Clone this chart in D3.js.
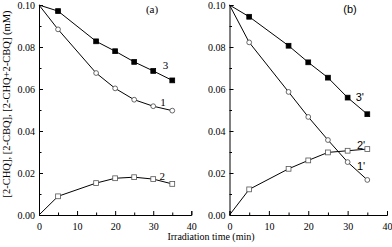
<!DOCTYPE html>
<html>
<head>
<meta charset="utf-8">
<script src="https://cdn.jsdelivr.net/npm/d3@7"></script>
<style>
  body { margin: 0; background: #fff; }
  svg { display: block; }
</style>
</head>
<body>
<div id="chart"></div>
<script>
// irradiation times (min)
const times = [0, 5, 15, 20, 25, 30, 35];

// panel (a)
const aCurve1 = [0.100, 0.0884, 0.0676, 0.0603, 0.0549, 0.0518, 0.0497];
const aCurve2 = [0.000, 0.0089, 0.0152, 0.0175, 0.0180, 0.0171, 0.0148];
const aCurve3 = [0.100, 0.0971, 0.0827, 0.0780, 0.0729, 0.0686, 0.0641];

// panel (b)
const bCurve1 = [0.100, 0.0822, 0.0586, 0.0467, 0.0357, 0.0252, 0.0167];
const bCurve2 = [0.000, 0.0122, 0.0220, 0.0260, 0.0298, 0.0306, 0.0314];
const bCurve3 = [0.100, 0.0944, 0.0806, 0.0727, 0.0654, 0.0559, 0.0480];

const xTicks = [0, 10, 20, 30, 40];
const yTicks = [0.00, 0.02, 0.04, 0.06, 0.08, 0.10];

const W = 392, H = 247;
const serif = "'Liberation Serif', 'Times New Roman', serif";
const sans = "'Liberation Sans', Arial, sans-serif";

const svg = d3.select("#chart").append("svg")
  .attr("width", W).attr("height", H);

const panels = [
  { left: 39, right: 191.3, tag: "(a)", tagFont: serif, tagX: 152,
    series: [
      { values: aCurve1, marker: "circle", label: "1", lx: 32.6, ly: 0.0533 },
      { values: aCurve2, marker: "osquare", label: "2", lx: 32.4, ly: 0.0181 },
      { values: aCurve3, marker: "fsquare", label: "3", lx: 33.2, ly: 0.0705 }
    ] },
  { left: 229.5, right: 387, tag: "(b)", tagFont: sans, tagX: 350,
    series: [
      { values: bCurve1, marker: "circle", label: "1'", lx: 33.4, ly: 0.0229 },
      { values: bCurve2, marker: "osquare", label: "2'", lx: 33.4, ly: 0.0329 },
      { values: bCurve3, marker: "fsquare", label: "3'", lx: 33.1, ly: 0.0557 }
    ] }
];

panels.forEach(p => {
  const x = d3.scaleLinear().domain([0, 40]).range([p.left, p.right]);
  const y = d3.scaleLinear().domain([0, 0.10]).range([215, 5]);
  const g = svg.append("g");

  // axes with inward ticks
  const gx = g.append("g")
    .attr("transform", "translate(0,215)")
    .call(d3.axisBottom(x).tickValues(d3.range(0, 41, 5)).tickSize(-4).tickPadding(8)
      .tickFormat(d => d % 10 === 0 ? d : ""));
  gx.selectAll(".tick line").attr("y2", d => d % 10 === 0 ? -4 : -2.5);
  const gy = g.append("g")
    .attr("transform", `translate(${p.left},0)`)
    .call(d3.axisLeft(y).tickValues(d3.range(0, 0.1001, 0.01)).tickSize(-4).tickPadding(4)
      .tickFormat(d => Math.round(d * 100) % 2 === 0 ? d3.format(".2f")(d) : ""));
  gy.selectAll(".tick line").attr("x2", d => Math.round(d * 100) % 2 === 0 ? 4 : 2.5);
  [gx, gy].forEach(a => {
    a.select(".domain").attr("stroke", "#000").attr("stroke-width", 1);
    a.selectAll(".tick line").attr("stroke", "#000");
    a.selectAll("text").attr("font-family", serif).attr("font-size", 10).attr("fill", "#000");
  });

  const line = d3.line().x((d, i) => x(times[i])).y(d => y(d));

  p.series.forEach(s => {
    g.append("path").datum(s.values)
      .attr("d", line).attr("fill", "none").attr("stroke", "#000").attr("stroke-width", 1);
    const pts = s.values.map((v, i) => ({ t: times[i], v })).slice(1);
    if (s.marker === "circle") {
      g.selectAll(null).data(pts).join("circle")
        .attr("cx", d => x(d.t)).attr("cy", d => y(d.v)).attr("r", 2.4)
        .attr("fill", "#fff").attr("stroke", "#444").attr("stroke-width", 0.8);
    } else {
      const filled = s.marker === "fsquare";
      g.selectAll(null).data(pts).join("rect")
        .attr("x", d => x(d.t) - 2.4).attr("y", d => y(d.v) - 2.4)
        .attr("width", 4.8).attr("height", 4.8)
        .attr("fill", filled ? "#000" : "#fff")
        .attr("stroke", filled ? "#000" : "#555").attr("stroke-width", 0.8);
    }
    g.append("text")
      .attr("x", x(s.lx)).attr("y", y(s.ly))
      .attr("dominant-baseline", "middle").attr("text-anchor", "middle")
      .attr("font-family", p.tagFont).attr("font-size", 11)
      .text(s.label);
  });

  g.append("text")
    .attr("x", p.tagX).attr("y", 10)
    .attr("dominant-baseline", "middle").attr("text-anchor", "middle")
    .attr("font-family", p.tagFont).attr("font-size", 11)
    .text(p.tag);
});

svg.append("text")
  .attr("transform", "translate(8,104) rotate(-90)")
  .attr("dominant-baseline", "middle").attr("text-anchor", "middle")
  .attr("font-family", serif).attr("font-size", 10.5)
  .text("[2-CHQ], [2-CBQ], [2-CHQ+2-CBQ] (mM)");

svg.append("text")
  .attr("x", 211).attr("y", 238)
  .attr("dominant-baseline", "middle").attr("text-anchor", "middle")
  .attr("font-family", serif).attr("font-size", 10)
  .text("Irradiation time (min)");
</script>
</body>
</html>
